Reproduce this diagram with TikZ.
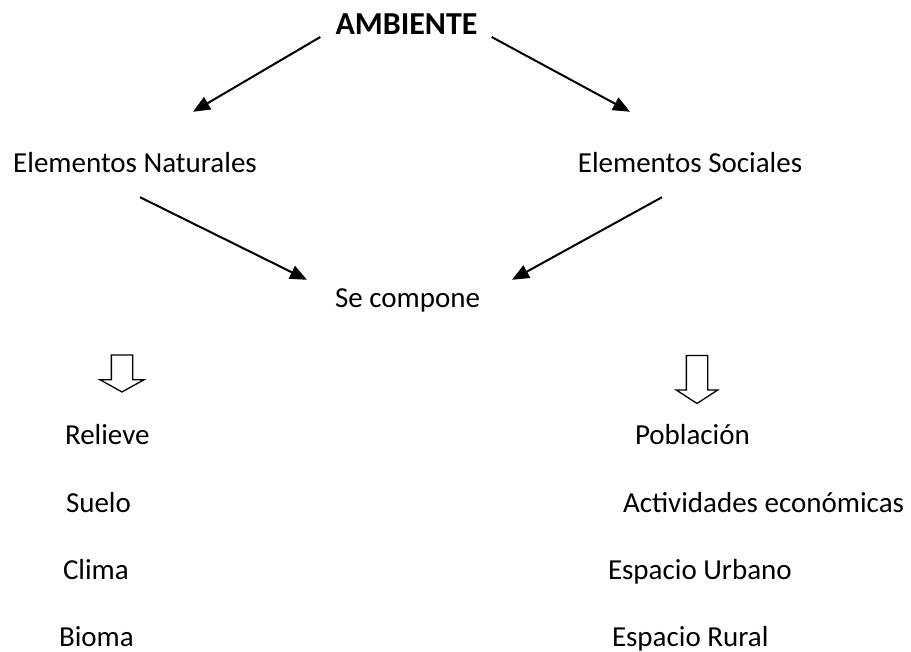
\documentclass[tikz,border=0pt]{standalone}
\usepackage{fontspec}
\setmainfont{Carlito}
\usetikzlibrary{arrows.meta,positioning,shapes.arrows}

\begin{document}
\begin{tikzpicture}[x=1pt,y=-1pt,on grid,
  word/.style={inner sep=0pt,text height=20pt,text depth=7pt,font=\fontsize{29}{34}\selectfont},
  item/.style={word,text width=300pt,align=flush left},
  flecha/.style={-{Triangle[length=17pt,width=14pt]},line width=2pt},
  hueca/.style={single arrow,draw,line width=1.3pt,inner xsep=10pt,inner ysep=0pt,shape border rotate=270}]
  \useasboundingbox (0,0) rectangle (911,652);
  \node[word,font=\fontsize{32}{36}\selectfont\bfseries] (amb) at (406.5,28.5) {AMBIENTE};
  \node[word] (nat) [below left=138pt and 271.5pt of amb] {Elementos Naturales};
  \node[word] (soc) [below right=138pt and 283.5pt of amb] {Elementos Sociales};
  \node[word] (comp) [below=273pt of amb, xshift=1pt] {Se compone};
  % lista izquierda
  \node[item] (rel) at (215,438.5) {Relieve};
  \node[item] (sue) [below=67pt of rel, xshift=1pt] {Suelo};
  \node[item] (cli) [below=67pt of sue, xshift=-3pt] {Clima};
  \node[item] (bio) [below=67pt of cli, xshift=-4pt] {Bioma};
  % lista derecha
  \node[item] (pob) at (785,438.5) {Población};
  \node[item] (act) [below=67pt of pob, xshift=-12pt] {Actividades económicas};
  \node[item] (urb) [below=67pt of act, xshift=-15pt] {Espacio Urbano};
  \node[item] (rur) [below=67pt of urb, xshift=4pt] {Espacio Rural};
  \node[hueca,minimum height=37pt,single arrow head extend=11.5pt,single arrow tip angle=122] (h1) at (122,370.5) {};
  \node[hueca,minimum height=48pt,single arrow head extend=10pt,single arrow tip angle=114] (h2) at (697,376) {};
  \draw[flecha] ([xshift=-15pt,yshift=-8.5pt]amb.west) -- ([xshift=58pt,yshift=41pt]nat.north);
  \draw[flecha] ([xshift=14pt,yshift=-8.5pt]amb.east) -- ([xshift=-60pt,yshift=41pt]soc.north);
  \draw[flecha] ([xshift=5pt,yshift=-17pt]nat.south) -- ([xshift=-100.5pt,yshift=8pt]comp.north);
  \draw[flecha] ([xshift=-28pt,yshift=-17pt]soc.south) -- ([xshift=104.5pt,yshift=8pt]comp.north);
\end{tikzpicture}
\end{document}
